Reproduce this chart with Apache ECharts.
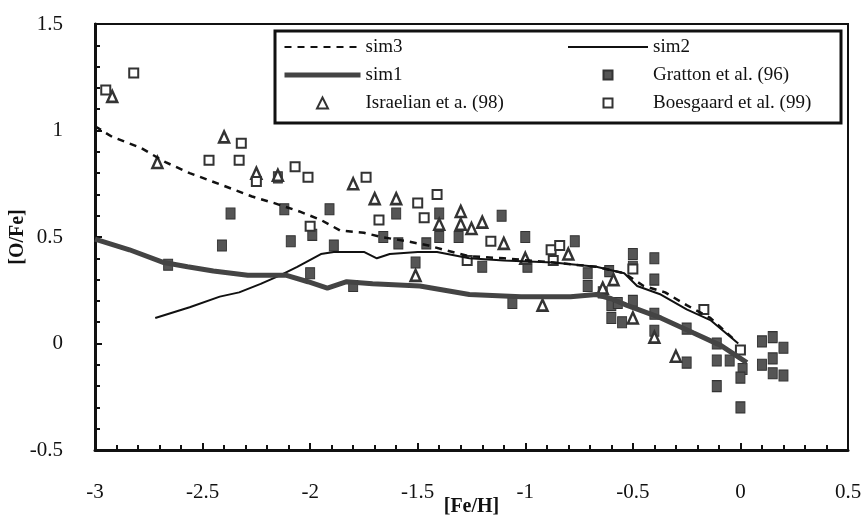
<!DOCTYPE html>
<html>
<head>
<meta charset="utf-8">
<script src="https://cdn.jsdelivr.net/npm/echarts@6/dist/echarts.min.js"></script>
<style>
  html, body { margin: 0; padding: 0; background: #fff; }
  #chart-box { width: 865px; height: 519px; }
</style>
</head>
<body>
<div id="chart-box"></div>
<script>
// 曲线数据 [Fe/H, O/Fe]
var sim1 = [[-3.0, 0.49], [-2.84, 0.44], [-2.68, 0.38], [-2.57, 0.36], [-2.45, 0.34], [-2.29, 0.32],
  [-2.11, 0.32], [-2.01, 0.29], [-1.92, 0.26], [-1.83, 0.29], [-1.71, 0.28], [-1.49, 0.27],
  [-1.26, 0.23], [-1.02, 0.22], [-0.79, 0.22], [-0.67, 0.23], [-0.60, 0.21], [-0.53, 0.18],
  [-0.37, 0.12], [-0.22, 0.05], [-0.09, -0.01], [0.03, -0.09]];
var sim2 = [[-2.72, 0.12], [-2.56, 0.17], [-2.42, 0.22], [-2.33, 0.24], [-2.23, 0.28], [-2.14, 0.32],
  [-2.06, 0.36], [-1.95, 0.42], [-1.89, 0.43], [-1.75, 0.43], [-1.69, 0.40], [-1.63, 0.42],
  [-1.50, 0.43], [-1.41, 0.43], [-1.26, 0.40], [-1.10, 0.39], [-0.87, 0.38], [-0.67, 0.36],
  [-0.54, 0.33], [-0.48, 0.27], [-0.37, 0.23], [-0.25, 0.16], [-0.14, 0.11], [-0.01, 0.0]];
var sim3 = [[-3.0, 1.02], [-2.92, 0.97], [-2.79, 0.92], [-2.67, 0.85], [-2.56, 0.80], [-2.40, 0.74],
  [-2.27, 0.69], [-2.17, 0.66], [-2.05, 0.62], [-1.95, 0.58], [-1.86, 0.53], [-1.75, 0.52],
  [-1.67, 0.50], [-1.55, 0.48], [-1.45, 0.46], [-1.38, 0.44], [-1.26, 0.41], [-1.10, 0.40],
  [-0.87, 0.38], [-0.67, 0.36], [-0.54, 0.33], [-0.45, 0.27], [-0.35, 0.24], [-0.25, 0.18],
  [-0.14, 0.12], [-0.02, 0.01]];

// 观测数据
var gratton = [[-2.37, 0.61], [-2.12, 0.63], [-1.91, 0.63], [-1.99, 0.51], [-2.41, 0.46], [-2.09, 0.48],
  [-1.89, 0.46], [-2.15, 0.78], [-2.66, 0.37], [-2.0, 0.33], [-1.80, 0.27], [-1.60, 0.61],
  [-1.40, 0.61], [-1.31, 0.50], [-1.66, 0.50], [-1.59, 0.47], [-1.46, 0.47], [-1.40, 0.50],
  [-1.51, 0.38], [-1.20, 0.36], [-1.11, 0.60], [-1.00, 0.50], [-0.77, 0.48], [-0.99, 0.36],
  [-0.71, 0.33], [-0.71, 0.27], [-0.61, 0.34], [-0.64, 0.24], [-1.06, 0.19], [-0.60, 0.18],
  [-0.60, 0.12], [-0.50, 0.42], [-0.40, 0.40], [-0.50, 0.36], [-0.40, 0.30], [-0.57, 0.19],
  [-0.55, 0.10], [-0.50, 0.20], [-0.40, 0.14], [-0.40, 0.06], [-0.25, -0.09], [-0.25, 0.07],
  [-0.11, 0.00], [-0.11, -0.08], [-0.11, -0.20], [-0.05, -0.08], [0.01, -0.12], [0.0, -0.30],
  [0.0, -0.16], [0.10, 0.01], [0.10, -0.10], [0.15, 0.03], [0.15, -0.07], [0.15, -0.14],
  [0.20, -0.02], [0.20, -0.15]];
var israelian = [[-2.92, 1.16], [-2.71, 0.85], [-2.40, 0.97], [-2.25, 0.80], [-2.15, 0.79], [-1.80, 0.75],
  [-1.70, 0.68], [-1.60, 0.68], [-1.40, 0.56], [-1.30, 0.62], [-1.30, 0.56], [-1.25, 0.54],
  [-1.20, 0.57], [-1.51, 0.32], [-1.10, 0.47], [-0.80, 0.42], [-1.00, 0.40], [-0.59, 0.30],
  [-0.64, 0.26], [-0.92, 0.18], [-0.50, 0.12], [-0.40, 0.03], [-0.30, -0.06]];
var boesgaard = [[-2.95, 1.19], [-2.82, 1.27], [-2.32, 0.94], [-2.47, 0.86], [-2.33, 0.86], [-2.25, 0.76],
  [-2.07, 0.83], [-2.01, 0.78], [-1.74, 0.78], [-2.00, 0.55], [-1.50, 0.66], [-1.41, 0.70],
  [-1.68, 0.58], [-1.47, 0.59], [-1.27, 0.39], [-1.16, 0.48], [-0.88, 0.44], [-0.84, 0.46],
  [-0.87, 0.39], [-0.50, 0.35], [-0.17, 0.16], [0.0, -0.03]];

var FONT = 'Liberation Serif';
var SQUARE = 'path://M0,0L10,0L10,10L0,10Z';
var TRIANGLE = 'path://M5,0L10,10L0,10Z';
var noSymbol = { opacity: 0 };

var legendLeft = [
    { name: 'sim3', itemStyle: noSymbol },
    { name: 'sim1', itemStyle: noSymbol, lineStyle: { width: 5, color: '#444' } },
    { name: 'Israelian et a. (98)', icon: TRIANGLE }
];
var legendRight = [
    { name: 'sim2', itemStyle: noSymbol },
    { name: 'Gratton et al. (96)', icon: SQUARE },
    { name: 'Boesgaard et al. (99)', icon: SQUARE }
];

var myChart = echarts.init(document.getElementById('chart-box'));

var legendText = { fontFamily: FONT, fontSize: 19, lineHeight: 20, color: '#111' };

var option = {
    backgroundColor: '#fff',
    animation: false,
    grid: {
        left: 95, right: 17, top: 24, bottom: 69,
        containLabel: false, outerBoundsMode: 'none',
        show: true, borderColor: '#111', borderWidth: 2
    },
    graphic: [{
        type: 'rect', z: 5,
        shape: { x: 275, y: 31, width: 566, height: 92 },
        style: { fill: '#fff', stroke: '#111', lineWidth: 3 }
    }],
    legend: [{
        data: legendLeft, orient: 'vertical', left: 282, top: 37, padding: 0,
        itemWidth: 76, itemHeight: 11, itemGap: 8, z: 10,
        textStyle: legendText
    }, {
        data: legendRight, orient: 'vertical', left: 567, top: 37, padding: 0,
        itemWidth: 80, itemHeight: 9, itemGap: 8, z: 10,
        textStyle: legendText
    }],
    xAxis: {
        type: 'value', min: -3, max: 0.5, interval: 0.5,
        name: '[Fe/H]', nameLocation: 'middle', nameGap: 47, nameMoveOverlap: false,
        nameTextStyle: { fontFamily: FONT, fontSize: 20, fontWeight: 'bold', color: '#111' },
        axisLine: { onZero: false, lineStyle: { color: '#111', width: 3 } },
        axisTick: { inside: true, length: 7, lineStyle: { color: '#111', width: 2 } },
        minorTick: { show: true, splitNumber: 5, length: 5, lineStyle: { color: '#111', width: 2 } },
        axisLabel: { margin: 32, fontFamily: FONT, fontSize: 21, color: '#111' },
        splitLine: { show: false }
    },
    yAxis: {
        type: 'value', min: -0.5, max: 1.5, interval: 0.5,
        name: '[O/Fe]', nameLocation: 'middle', nameGap: 67, nameMoveOverlap: false,
        nameTextStyle: { fontFamily: FONT, fontSize: 20, fontWeight: 'bold', color: '#111' },
        axisLine: { onZero: false, lineStyle: { color: '#111', width: 3 } },
        axisTick: { inside: true, length: 7, lineStyle: { color: '#111', width: 2 } },
        minorTick: { show: true, splitNumber: 5, length: 5, lineStyle: { color: '#111', width: 2 } },
        axisLabel: { margin: 32, fontFamily: FONT, fontSize: 21, color: '#111' },
        splitLine: { show: false }
    },
    series: [{
        name: 'sim3', type: 'line', data: sim3, symbol: 'none',
        lineStyle: { color: '#111', width: 2.5, type: [7, 6] },
        itemStyle: { color: '#111' }
    }, {
        name: 'sim2', type: 'line', data: sim2, symbol: 'none',
        lineStyle: { color: '#111', width: 2 },
        itemStyle: { color: '#111' }
    }, {
        name: 'sim1', type: 'line', data: sim1, symbol: 'none',
        lineStyle: { color: '#444', width: 5 },
        itemStyle: { color: '#444' }
    }, {
        name: 'Gratton et al. (96)', type: 'scatter', data: gratton,
        symbol: 'rect', symbolSize: [9, 11],
        itemStyle: { color: '#555', borderColor: '#333', borderWidth: 1, opacity: 1 }
    }, {
        name: 'Israelian et a. (98)', type: 'scatter', data: israelian,
        symbol: 'triangle', symbolSize: [10, 11],
        itemStyle: { color: '#fff', borderColor: '#333', borderWidth: 2.5, opacity: 1 }
    }, {
        name: 'Boesgaard et al. (99)', type: 'scatter', data: boesgaard,
        symbol: 'rect', symbolSize: 9,
        itemStyle: { color: '#fff', borderColor: '#333', borderWidth: 2, opacity: 1 }
    }]
};

myChart.setOption(option);
</script>
</body>
</html>
